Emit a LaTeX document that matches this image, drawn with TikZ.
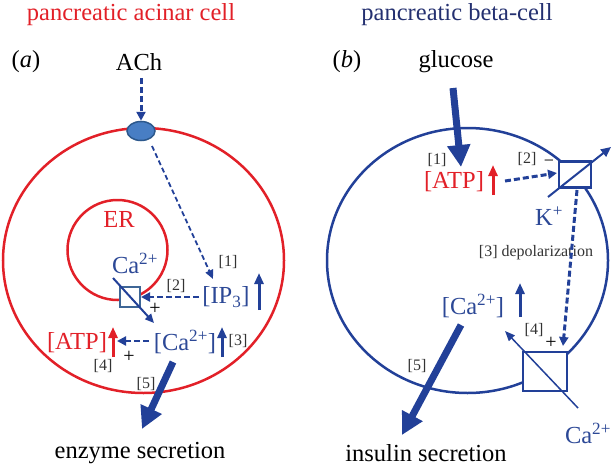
\documentclass[tikz,border=0pt]{standalone}
\usepackage{fontspec}
\setmainfont{Liberation Serif}
\usetikzlibrary{arrows.meta,shapes.geometric}
\definecolor{cred}{RGB}{226,32,40}
\definecolor{cblue}{RGB}{34,64,152}
\definecolor{tblue}{RGB}{44,72,150}
\definecolor{navy}{RGB}{36,48,112}
\definecolor{rfill}{RGB}{72,126,196}
\definecolor{rline}{RGB}{44,88,140}
\definecolor{steel}{RGB}{62,102,150}
\begin{document}
\begin{tikzpicture}[x=1pt,y=-1pt,
  big/.style={font=\fontsize{24.5}{26}\selectfont, inner sep=0pt},
  small/.style={font=\fontsize{16}{18}\selectfont, inner sep=0pt, text=black!80},
  thick arrow/.style={cblue, line width=7pt, -{Triangle[width=22pt,length=22pt]}},
  up arrow/.style={line width=3pt, -{Triangle[width=9pt,length=11pt]}},
  dash arrow/.style={cblue, line width=2.5pt, dash pattern=on 6pt off 3pt, -{Triangle[width=9pt,length=9pt]}},
  thin dash/.style={cblue, line width=1.8pt, dash pattern=on 5pt off 3pt, -{Triangle[width=8pt,length=9pt]}},
  chan/.style={draw, fill=white, line width=2.5pt, minimum width=0pt, inner sep=0pt}
]
\useasboundingbox (0,0) rectangle (612,468);
% ---------- panel a ----------
\node[big, text=cred] (ta) at (131,15) {pancreatic acinar cell};
\node[big] (la) at (26,62) {(\textit{a})};
\node[big] (ach) at (139,62) {ACh};
\draw[cred, line width=2.5pt] (143.5,260.5) ellipse [x radius=140.5, y radius=132.5];
\draw[cred, line width=2.5pt] (117.5,250) circle [radius=50];
\node[ellipse, draw=rline, fill=rfill, line width=1.5pt, minimum width=28pt, minimum height=19pt, inner sep=0pt] (rec) at (141,131) {};
\node[big, text=cred] (er) at (119,219) {ER};
\node[big, text=tblue] (caer) at (135,263) {Ca\textsuperscript{2+}};
\node[chan, draw=steel, line width=2pt, minimum width=20pt, minimum height=20pt] (sqa) at (130,297) {};
\coordinate (da1) at (113,278);
\coordinate (da2) at (154,323);
\draw[cblue, line width=2pt, -{Triangle[width=8pt,length=9pt]}] (da1) -- (da2);
\node[big, font=\fontsize{20}{22}\selectfont] (pa1) at (155,309) {+};
\node[small] (n2a) at (176,286) {[2]};
\node[big, text=tblue] (ip3) at (226,297) {[IP\textsubscript{3}]};
\coordinate (ip3b) at (259,310); \coordinate (ip3t) at (259,273);
\draw[up arrow, cblue] (ip3b) -- (ip3t);
\node[small] (n1a) at (228,262) {[1]};
\coordinate (rec2) at (152,146); \coordinate (ip3tip) at (213,279);
\draw[thin dash] (rec2) -- (ip3tip);
\coordinate (ach2) at (141,78);
\draw[dash arrow, line width=3pt] (ach2) -- (rec.north);
\draw[dash arrow] (ip3.west) ++(-3,0) coordinate (ip3w) -- (sqa.east);
\node[big, text=tblue] (caa) at (185,342) {[Ca\textsuperscript{2+}]};
\coordinate (cab) at (222,357); \coordinate (cat) at (222,327);
\draw[up arrow, cblue] (cab) -- (cat);
\node[small] (n3a) at (238,341) {[3]};
\node[big, text=cred] (atpa) at (77,343) {[ATP]};
\coordinate (atpb) at (113,357); \coordinate (atpt) at (113,327);
\draw[up arrow, cred] (atpb) -- (atpt);
\coordinate (cal) at (149,341); \coordinate (atpr) at (117,341);
\draw[dash arrow] (cal) -- (atpr);
\node[big, font=\fontsize{20}{22}\selectfont] (pa2) at (129,357) {+};
\node[small] (n4a) at (103,366) {[4]};
\node[small] (n5a) at (146,384) {[5]};
\node[big] (enz) at (140,453) {enzyme secretion};
\coordinate (sa1) at (173,362); \coordinate (sa2) at (142,429);
\draw[thick arrow] (sa1) -- (sa2);
% ---------- panel b ----------
\node[big, text=navy] (tb) at (457,15) {pancreatic beta-cell};
\node[big] (lb) at (347,62) {(\textit{b})};
\node[big] (glu) at (456,62) {glucose};
\draw[cblue, line width=2.5pt] (467.5,260.5) ellipse [x radius=140.5, y radius=132.5];
\coordinate (g1) at (453,88); \coordinate (g2) at (461,167);
\draw[thick arrow] (g1) -- (g2);
\node[small] (n1b) at (437,160) {[1]};
\node[big, text=cred] (atpb2) at (454,182) {[ATP]};
\coordinate (atpbb) at (493,195); \coordinate (atpbt) at (493,165);
\draw[up arrow, cred] (atpbb) -- (atpbt);
\node[chan, draw=cblue, minimum width=32pt, minimum height=26pt] (sqk) at (575,174.5) {};
\coordinate (atpk) at (505,181); \coordinate (kin) at (557,173);
\draw[dash arrow, line width=3pt] (atpk) -- (kin);
\node[small] (n2b) at (527,159) {[2]};
\node[big, font=\fontsize{18}{20}\selectfont] (mb) at (549,163) {\char"2212};
\coordinate (k1) at (548,197); \coordinate (k2) at (611,147);
\draw[cblue, line width=2pt, -{Triangle[width=9pt,length=10pt]}] (k1) -- (k2);
\node[big, text=tblue] (kp) at (549,216) {K\textsuperscript{+}};
\node[small] (n3b) at (536,253) {[3] depolarization};
\coordinate (kb) at (577,190); \coordinate (cat2) at (563,346);
\draw[dash arrow, line width=3pt] (kb) -- (cat2);
\node[big, text=tblue] (cab2) at (473,306) {[Ca\textsuperscript{2+}]};
\coordinate (cabb) at (520,317); \coordinate (cabt) at (520,283);
\draw[up arrow, cblue] (cabb) -- (cabt);
\node[small] (n4b) at (534,330) {[4]};
\node[big, font=\fontsize{20}{22}\selectfont] (pb) at (551,343) {+};
\node[chan, draw=cblue, minimum width=44pt, minimum height=39pt] (sqc) at (545,371.5) {};
\coordinate (c1) at (578,408); \coordinate (c2) at (505,331);
\draw[cblue, line width=1.5pt, -{Triangle[width=8pt,length=10pt]}] (c1) -- (c2);
\node[big, text=tblue] (cao) at (588,433) {Ca\textsuperscript{2+}};
\node[small] (n5b) at (417,366) {[5]};
\node[big] (ins) at (426,453) {insulin secretion};
\coordinate (s1) at (461,325); \coordinate (s2) at (402,435);
\draw[thick arrow] (s1) -- (s2);
\end{tikzpicture}
\end{document}
